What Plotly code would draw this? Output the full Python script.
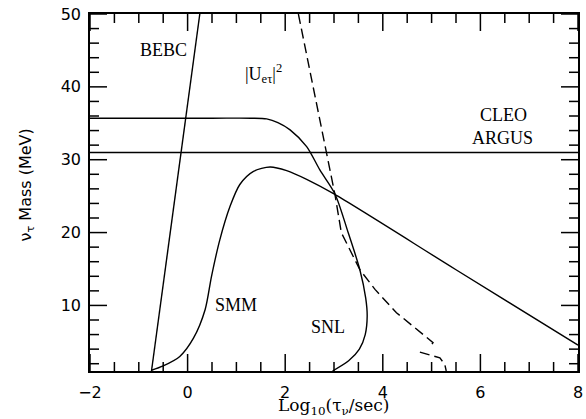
import numpy as np
import plotly.graph_objects as go

# BEBC bound (straight line)
bebc_x = [-0.74, 0.25]
bebc_y = [1.0, 50.0]

# CLEO / ARGUS bound
cleo_x = [-2.0, 8.0]
cleo_y = [31.0, 31.0]

# SNL bound
snl_x = [-2.0, 0.5, 1.3, 1.62, 1.85, 2.10, 2.44, 2.71, 3.02, 3.29, 3.53, 3.65, 3.68, 3.64, 3.52, 3.30, 2.97]
snl_y = [35.7, 35.7, 35.7, 35.6, 35.1, 34.1, 31.8, 28.6, 25.3, 20.0, 14.9, 11.0, 8.5, 6.0, 4.0, 2.4, 1.0]

# SMM bound
smm_x = [-0.74, -0.50, -0.16, 0.12, 0.36, 0.49, 0.66, 0.87, 1.07, 1.35, 1.69, 2.03, 2.44, 3.0, 5.5, 8.0]
smm_y = [1.1, 1.7, 3.0, 5.5, 9.45, 14.0, 19.0, 23.6, 26.6, 28.4, 29.0, 28.5, 27.3, 25.3, 14.9, 4.55]

# |U_e tau|^2 bound (dashed), two pieces
u1_x = [2.27, 3.02, 3.15, 3.35, 3.53, 3.84, 4.28, 5.03, 4.96]
u1_y = [50.0, 25.2, 20.0, 17.2, 14.9, 12.2, 9.0, 4.9, 4.2]
u2_x = [4.76, 5.17, 5.27, 5.30]
u2_y = [3.6, 2.8, 1.9, 1.0]

# labels
lab_text = ["BEBC", "|U<sub>eτ</sub>|<sup>2</sup>", "CLEO", "ARGUS", "SMM", "SNL"]
lab_x = [-0.50, 1.55, 6.47, 6.45, 0.99, 2.87]
lab_y = [45.1, 41.9, 36.2, 33.0, 10.1, 7.0]

x_title = "Log<sub>10</sub>(τ<sub>ν</sub>/sec)"
y_title = "ν<sub>τ</sub> Mass (MeV)"

X_RANGE = [-2, 8]
Y_RANGE = [1, 50]
x_major = [-2, 0, 2, 4, 6, 8]
y_major = [10, 20, 30, 40, 50]
x_minor = [float(v) for v in np.arange(-2, 8.01, 0.5) if v % 2 != 0]
y_minor = [v for v in range(2, 50, 2) if v % 10 != 0]

W, H = 586, 419
M = dict(l=90, r=8, t=14, b=48)
px_per_x = (W - M["l"] - M["r"]) / (X_RANGE[1] - X_RANGE[0])
px_per_y = (H - M["t"] - M["b"]) / (Y_RANGE[1] - Y_RANGE[0])
MAJ, MIN = 17, 9  # tick lengths in pixels

LW = 1.4
fig = go.Figure()
fig.add_trace(go.Scatter(x=bebc_x, y=bebc_y, mode="lines", line=dict(color="black", width=LW)))
fig.add_trace(go.Scatter(x=cleo_x, y=cleo_y, mode="lines", line=dict(color="black", width=LW)))
fig.add_trace(go.Scatter(x=snl_x, y=snl_y, mode="lines", line=dict(color="black", width=LW, shape="spline", smoothing=0.8)))
fig.add_trace(go.Scatter(x=smm_x, y=smm_y, mode="lines", line=dict(color="black", width=LW, shape="spline", smoothing=0.8)))
fig.add_trace(go.Scatter(x=u1_x, y=u1_y, mode="lines", line=dict(color="black", width=LW, dash="10px,5px")))
fig.add_trace(go.Scatter(x=u2_x, y=u2_y, mode="lines", line=dict(color="black", width=LW, dash="10px,5px")))

# inward tick marks on all four sides, one small line trace per tick
def tick(xs, ys):
    fig.add_trace(go.Scatter(x=xs, y=ys, mode="lines", line=dict(color="#000000", width=1.5),
                             hoverinfo="skip", showlegend=False))

for vals, L in ((x_major, MAJ), (x_minor, MIN)):
    dy = L / px_per_y
    for v in vals:
        tick([v, v], [Y_RANGE[0], Y_RANGE[0] + dy])
        tick([v, v], [Y_RANGE[1], Y_RANGE[1] - dy])
for vals, L in ((y_major, MAJ), (y_minor, MIN)):
    dx = L / px_per_x
    for v in vals:
        tick([X_RANGE[0], X_RANGE[0] + dx], [v, v])
        tick([X_RANGE[1], X_RANGE[1] - dx], [v, v])

for t, x, y in zip(lab_text, lab_x, lab_y):
    fig.add_annotation(x=x, y=y, xref="x", yref="y", text=t, showarrow=False,
                       font=dict(family="Liberation Serif", size=18, color="black"))

fig.add_annotation(x=0.5, y=-0.10, xref="paper", yref="paper", text=x_title, showarrow=False,
                   xanchor="center", yanchor="middle",
                   font=dict(family="DejaVu Serif", size=17, color="black"))
fig.add_annotation(x=-0.131, y=0.52, xref="paper", yref="paper", text=y_title, showarrow=False,
                   xanchor="center", yanchor="middle", textangle=-90,
                   font=dict(family="DejaVu Sans", size=16, color="black"))

main_common = dict(showgrid=False, zeroline=False, showline=True, linecolor="black", linewidth=1.6,
                   mirror=True, ticks="", tickmode="array", automargin=False,
                   tickfont=dict(family="DejaVu Sans", size=16, color="black"))

fig.update_xaxes(range=X_RANGE, tickvals=x_major, ticklabelstandoff=6, **main_common)
fig.update_yaxes(range=Y_RANGE, tickvals=y_major, ticklabelstandoff=4, **main_common)

fig.update_layout(width=W, height=H, margin=M,
                  plot_bgcolor="white", paper_bgcolor="white", showlegend=False)

fig.write_html("out.html")
